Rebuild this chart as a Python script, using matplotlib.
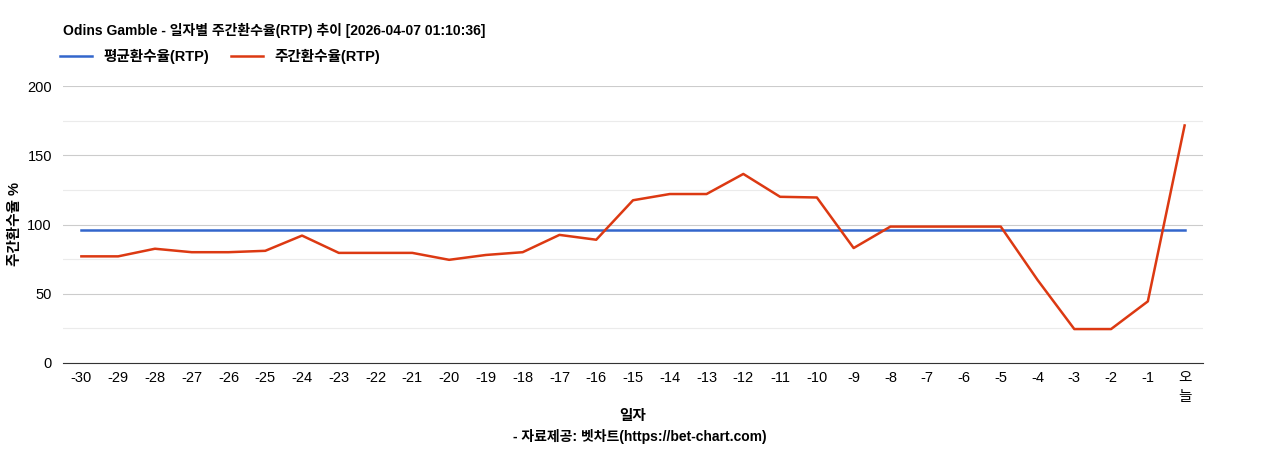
import matplotlib
matplotlib.use("Agg")
import matplotlib.pyplot as plt

plt.rcParams['font.family'] = ['Liberation Sans', 'Noto Sans CJK KR', 'DejaVu Sans']

labels = [str(i) for i in range(-30, 0)] + ["오\n늘"]
weekly = [77, 77, 82.5, 80, 80, 81, 92, 79.5, 79.5, 79.5, 74.5, 78, 80, 92.5, 89,
          117.5, 122, 122, 136.5, 120, 119.5, 83, 98.5, 98.5, 98.5, 98.5, 60, 24.5, 24.5, 44.5, 171.5]
avg = [96] * len(labels)

fig = plt.figure(figsize=(12.68, 4.5), dpi=100)
ax = fig.add_axes([63/1268, 87/450, 1140/1268, 277/450])
x = list(range(len(labels)))
ax.plot(x, avg, color='#3366cc', lw=1.8, label='평균환수율(RTP)')
ax.plot(x, weekly, color='#dc3912', lw=1.8, label='주간환수율(RTP)')
ax.set_xlim(-0.5, len(labels) - 0.5)
ax.set_ylim(0, 200)
ax.set_yticks([0, 50, 100, 150, 200])
ax.set_yticks([25, 75, 125, 175], minor=True)
ax.grid(axis='y', which='major', color='#cccccc', lw=0.8)
ax.grid(axis='y', which='minor', color='#ebebeb', lw=0.8)
ax.set_axisbelow(True)
ax.set_xticks(x)
ax.set_xticklabels(labels, fontsize=10.5, linespacing=1.4)
ax.tick_params(axis='y', labelsize=10.5, length=0, pad=8)
ax.tick_params(axis='x', length=0, pad=6, which='both')
ax.tick_params(axis='y', which='minor', length=0)
for s in ['top', 'right', 'left']:
    ax.spines[s].set_visible(False)
ax.spines['bottom'].set_color('#333333')
ax.set_ylabel('주간환수율 %', fontsize=10.5, fontweight='bold', labelpad=4)
ax.set_xlabel('일자', fontsize=10.5, fontweight='bold', labelpad=4)
fig.text(640/1268, 1 - 437/450, '- 자료제공: 벳차트(https://bet-chart.com)', fontsize=10, fontweight='bold', ha='center', va='center')
fig.text(63/1268, 1 - 30/450, 'Odins Gamble - 일자별 주간환수율(RTP) 추이 [2026-04-07 01:10:36]', fontsize=10, fontweight='bold', ha='left', va='center')
ax.legend(loc='lower left', bbox_to_anchor=(-0.003, 1.08), ncol=2, frameon=False,
          prop={'weight': 'bold', 'size': 10.5}, handlelength=2.2, columnspacing=1.5, borderaxespad=0, borderpad=0)
fig.savefig('out.png', dpi=100)
